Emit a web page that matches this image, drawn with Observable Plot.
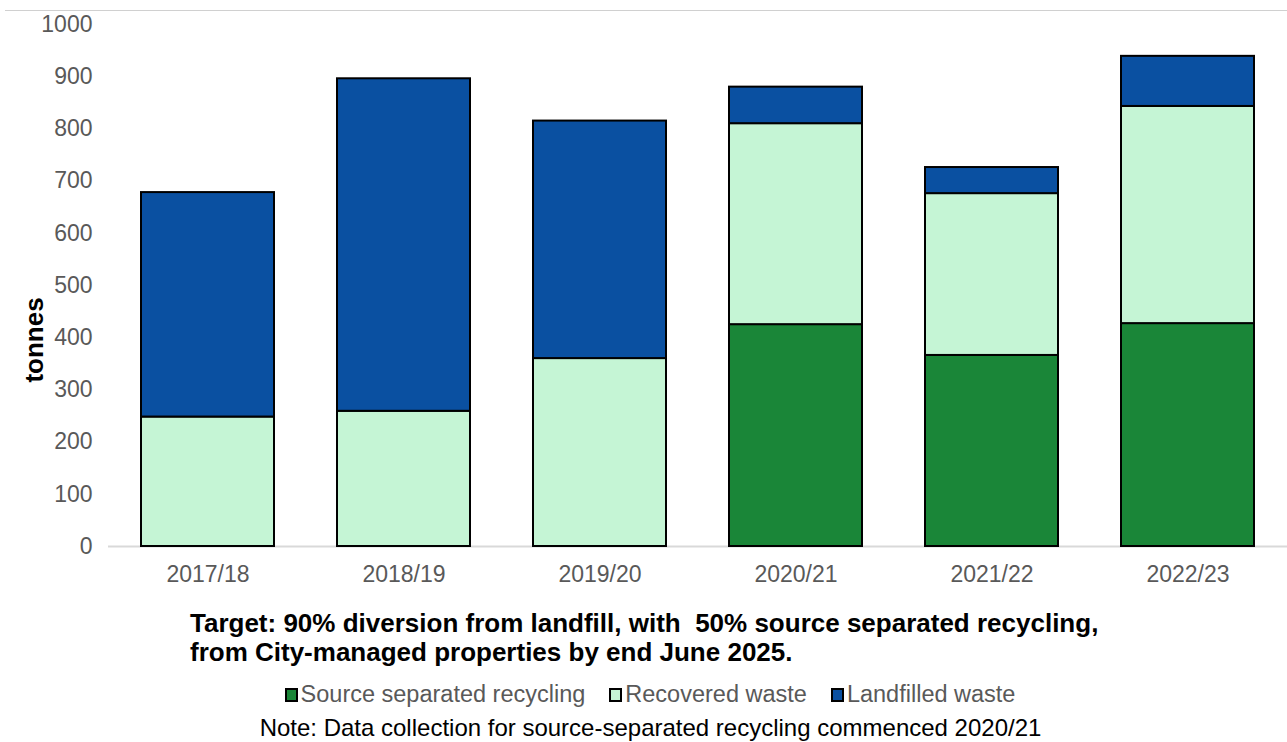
<!DOCTYPE html>
<html>
<head>
<meta charset="utf-8">
<script src="https://cdn.jsdelivr.net/npm/d3@7"></script>
<script src="https://cdn.jsdelivr.net/npm/@observablehq/plot@0.6"></script>
<style>
  html, body { margin: 0; padding: 0; background: #fff; }
  body { width: 1287px; height: 742px; position: relative; overflow: hidden; font-family: "Liberation Sans", Arial, sans-serif; }
  #frame { position: absolute; top: 10px; left: 5px; right: 0; border-top: 1px solid #d0d0d0; }
  #chart { position: absolute; left: 0; top: 0; }
  #chart svg { display: block; }
  #ylabel { position: absolute; left: 34px; top: 340px; transform: translate(-50%, -50%) rotate(-90deg); font-weight: bold; font-size: 26px; line-height: 30px; color: #000; white-space: nowrap; }
  #title { position: absolute; left: 190px; top: 609px; font-weight: bold; font-size: 26px; line-height: 29px; color: #000; white-space: nowrap; }
  #legend { position: absolute; left: 0; width: 1300px; top: 681px; text-align: center; font-size: 23.5px; line-height: 26px; color: #595959; white-space: nowrap; }
  #legend .item { display: inline-block; margin: 0 12px; }
  #legend .sw { display: inline-block; box-sizing: border-box; width: 13px; height: 14px; border: 2px solid #000; margin-right: 3px; vertical-align: 0px; }
  #note { position: absolute; left: 0; width: 1301px; top: 715px; text-align: center; font-size: 24px; line-height: 26px; color: #000; white-space: nowrap; }
</style>
</head>
<body>
<div id="frame"></div>
<div id="chart"></div>
<div id="ylabel">tonnes</div>
<div id="title">Target: 90% diversion from landfill, with&nbsp; 50% source separated recycling,<br>from City-managed properties by end June 2025.</div>
<div id="legend"></div>
<div id="note">Note: Data collection for source-separated recycling commenced 2020/21</div>
<script>
const years = ["2017/18", "2018/19", "2019/20", "2020/21", "2021/22", "2022/23"];
const seriesNames = ["Source separated recycling", "Recovered waste", "Landfilled waste"];
const seriesColors = ["#1a8638", "#c5f5d5", "#0a50a1"];
const sourceSeparated = [0, 0, 0, 425, 366, 427];
const recovered = [248, 259, 360, 385, 310, 416];
const landfilled = [430, 637, 455, 70, 50, 96];
const yTicks = [0, 100, 200, 300, 400, 500, 600, 700, 800, 900, 1000];

const seriesValues = [sourceSeparated, recovered, landfilled];
const data = [];
seriesNames.forEach((s, i) => {
  years.forEach((y, j) => {
    if (seriesValues[i][j] > 0) data.push({year: y, series: s, value: seriesValues[i][j]});
  });
});

const chart = Plot.plot({
  width: 1287,
  height: 596,
  marginTop: 24,
  marginBottom: 50,
  marginLeft: 108,
  marginRight: 0,
  style: {fontFamily: "'Liberation Sans', Arial, sans-serif", fontSize: "23px", color: "#595959", background: "transparent"},
  x: {domain: years, paddingInner: 0.32, paddingOuter: 0.16, label: null, tickSize: 0, tickPadding: 19},
  y: {domain: [0, 1000], ticks: yTicks, tickFormat: "d", label: null, tickSize: 0, tickPadding: 16},
  color: {domain: seriesNames, range: seriesColors},
  marks: [
    Plot.ruleY([0], {stroke: "#d9d9d9", strokeWidth: 2}),
    Plot.barY(data, {x: "year", y: "value", fill: "series", z: "series", order: seriesNames, stroke: "#000", strokeWidth: 2})
  ]
});
document.getElementById("chart").appendChild(chart);

const legend = document.getElementById("legend");
seriesNames.forEach((s, i) => {
  const item = document.createElement("span");
  item.className = "item";
  const sw = document.createElement("span");
  sw.className = "sw";
  sw.style.background = seriesColors[i];
  item.appendChild(sw);
  item.appendChild(document.createTextNode(s));
  legend.appendChild(item);
});
</script>
</body>
</html>
